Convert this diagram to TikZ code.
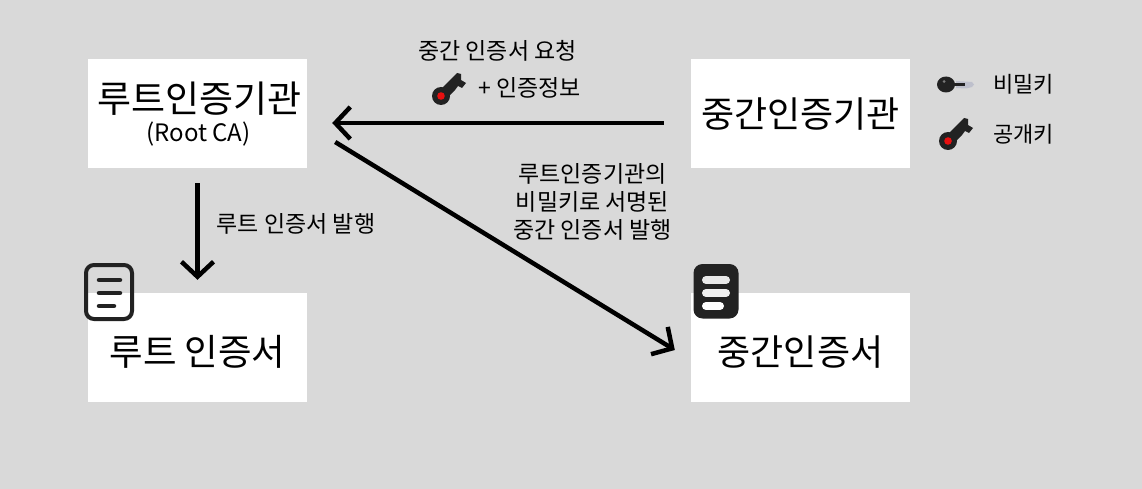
\documentclass[tikz,border=0pt]{standalone}
\usepackage{fontspec}
\setmainfont{Noto Sans CJK KR}
\usetikzlibrary{positioning, arrows.meta, calc}
\definecolor{PageGray}{RGB}{217, 217, 217}
\definecolor{IconDark}{RGB}{34, 34, 34}
\definecolor{KeyRed}{RGB}{232, 16, 16}
\definecolor{KeyLight}{RGB}{190, 192, 204}
\tikzset{
  boxnode/.style={fill=white, minimum width=219pt, minimum height=109pt, inner sep=0pt, align=center},
  arrowline/.style={line width=4.5pt, -{Straight Barb[length=15pt, width=32pt, line width=4.5pt]}},
  biglabel/.style={font=\fontsize{36}{40}\selectfont, inner sep=0pt},
  smalllabel/.style={font=\fontsize{23}{28}\selectfont, inner sep=0pt, align=center},
  legendlabel/.style={font=\fontsize{22}{28}\selectfont, inner sep=0pt},
  pics/publickey/.style={code={
    \fill[IconDark] (0,0) circle (9pt);
    \fill[KeyRed] (0,0) circle (3.8pt);
    \fill[IconDark] (1,-8) -- (16,-23) -- (20,-22) -- (20,-16) -- (25,-13) -- (21,-8) -- (17,-10) -- (14,-6) -- (8,0) -- cycle;
  }},
  pics/privatekey/.style={code={
    \fill[KeyLight] (10,-3.5) -- (26,-2.5) -- (28,0) -- (26,2.5) -- (20,4) -- (10,3.5) -- cycle;
    \fill[IconDark] (6,-1.2) rectangle (19,1.2);
    \fill[IconDark] (0,0) ellipse (9pt and 8pt);
    \fill[white!40!IconDark] (-2,-3) circle (1.5pt);
  }}
}
\begin{document}
\begin{tikzpicture}[x=1pt, y=-1pt]
    \useasboundingbox[fill=PageGray] (0,0) rectangle (1142,489);

    % Boxes
    \node[boxnode] (rootca) at (197.5,113.5) {};
    \node[boxnode] (interca) at (800.5,113.5) {};
    \node[boxnode] (rootcert) at (197.5,347.5) {};
    \node[boxnode] (intercert) at (800.5,347.5) {};

    % Box labels
    \node[biglabel, font=\fontsize{37}{40}\selectfont] (rootcaname) at (199.5,99) {루트인증기관};
    \node[font=\fontsize{24}{28}\selectfont, inner sep=0pt] (rootcaen) at (198.5,134) {(Root CA)};
    \node[biglabel] (intercaname) at (800.5,114) {중간인증기관};
    \node[biglabel, font=\fontsize{36.5}{40}\selectfont] (rootcertname) at (197.5,352) {루트 인증서};
    \node[biglabel] (intercertname) at (800.5,352) {중간인증서};

    % Arrow ends
    \coordinate (rootcastart) at ($(rootca.south)+(0,15)$);
    \coordinate (rootcertend) at ($(rootcert.north)+(0,-13)$);
    \coordinate (intercastart) at ($(interca.west)+(-27,9.5)$);
    \coordinate (rootcaend) at ($(rootca.east)+(25,9.5)$);
    \coordinate (rootcastart2) at ($(rootca.east)+(28,28.5)$);
    \coordinate (intercertend) at ($(intercert.west)+(-16,2.5)$);

    % Arrows
    \draw[arrowline] (rootcastart) -- (rootcertend);
    \draw[arrowline] (intercastart) -- (rootcaend);
    \draw[arrowline] (rootcastart2) -- (intercertend);

    % Arrow labels
    \node[smalllabel] (requesttext) at (497.5,51) {중간 인증서 요청};
    \node[smalllabel] (infotext) at (529.5,88) {+ 인증정보};
    \node[smalllabel] (issuetext) at (296,224) {루트 인증서 발행};
    \node[smalllabel] (signedtext) at (592.5,201.5) {루트인증기관의\\비밀키로 서명된\\중간 인증서 발행};

    % Keys
    \pic at (441,96) {publickey};
    \pic at (946,84.5) {privatekey};
    \pic at (948,141) {publickey};

    % Legend
    \node[legendlabel] (privatetext) at (1023.5,84) {비밀키};
    \node[legendlabel] (publictext) at (1023.5,134) {공개키};

    % Certificate icons
    \draw[IconDark, line width=4pt, rounded corners=8pt] (86,265) rectangle (132,319);
    \foreach \y/\e in {280/120,293/120,306/114} {
      \draw[IconDark, line width=4.5pt, line cap=round] (99,\y) -- (\e,\y);
    }
    \fill[IconDark, rounded corners=9pt] (693.5,264) rectangle (738.5,318.5);
    \foreach \y/\e/\c in {280/726/PageGray!60!white,293/726/PageGray!40!white,306/720/white} {
      \draw[\c, line width=8pt, line cap=round] (706,\y) -- (\e,\y);
    }
\end{tikzpicture}
\end{document}
